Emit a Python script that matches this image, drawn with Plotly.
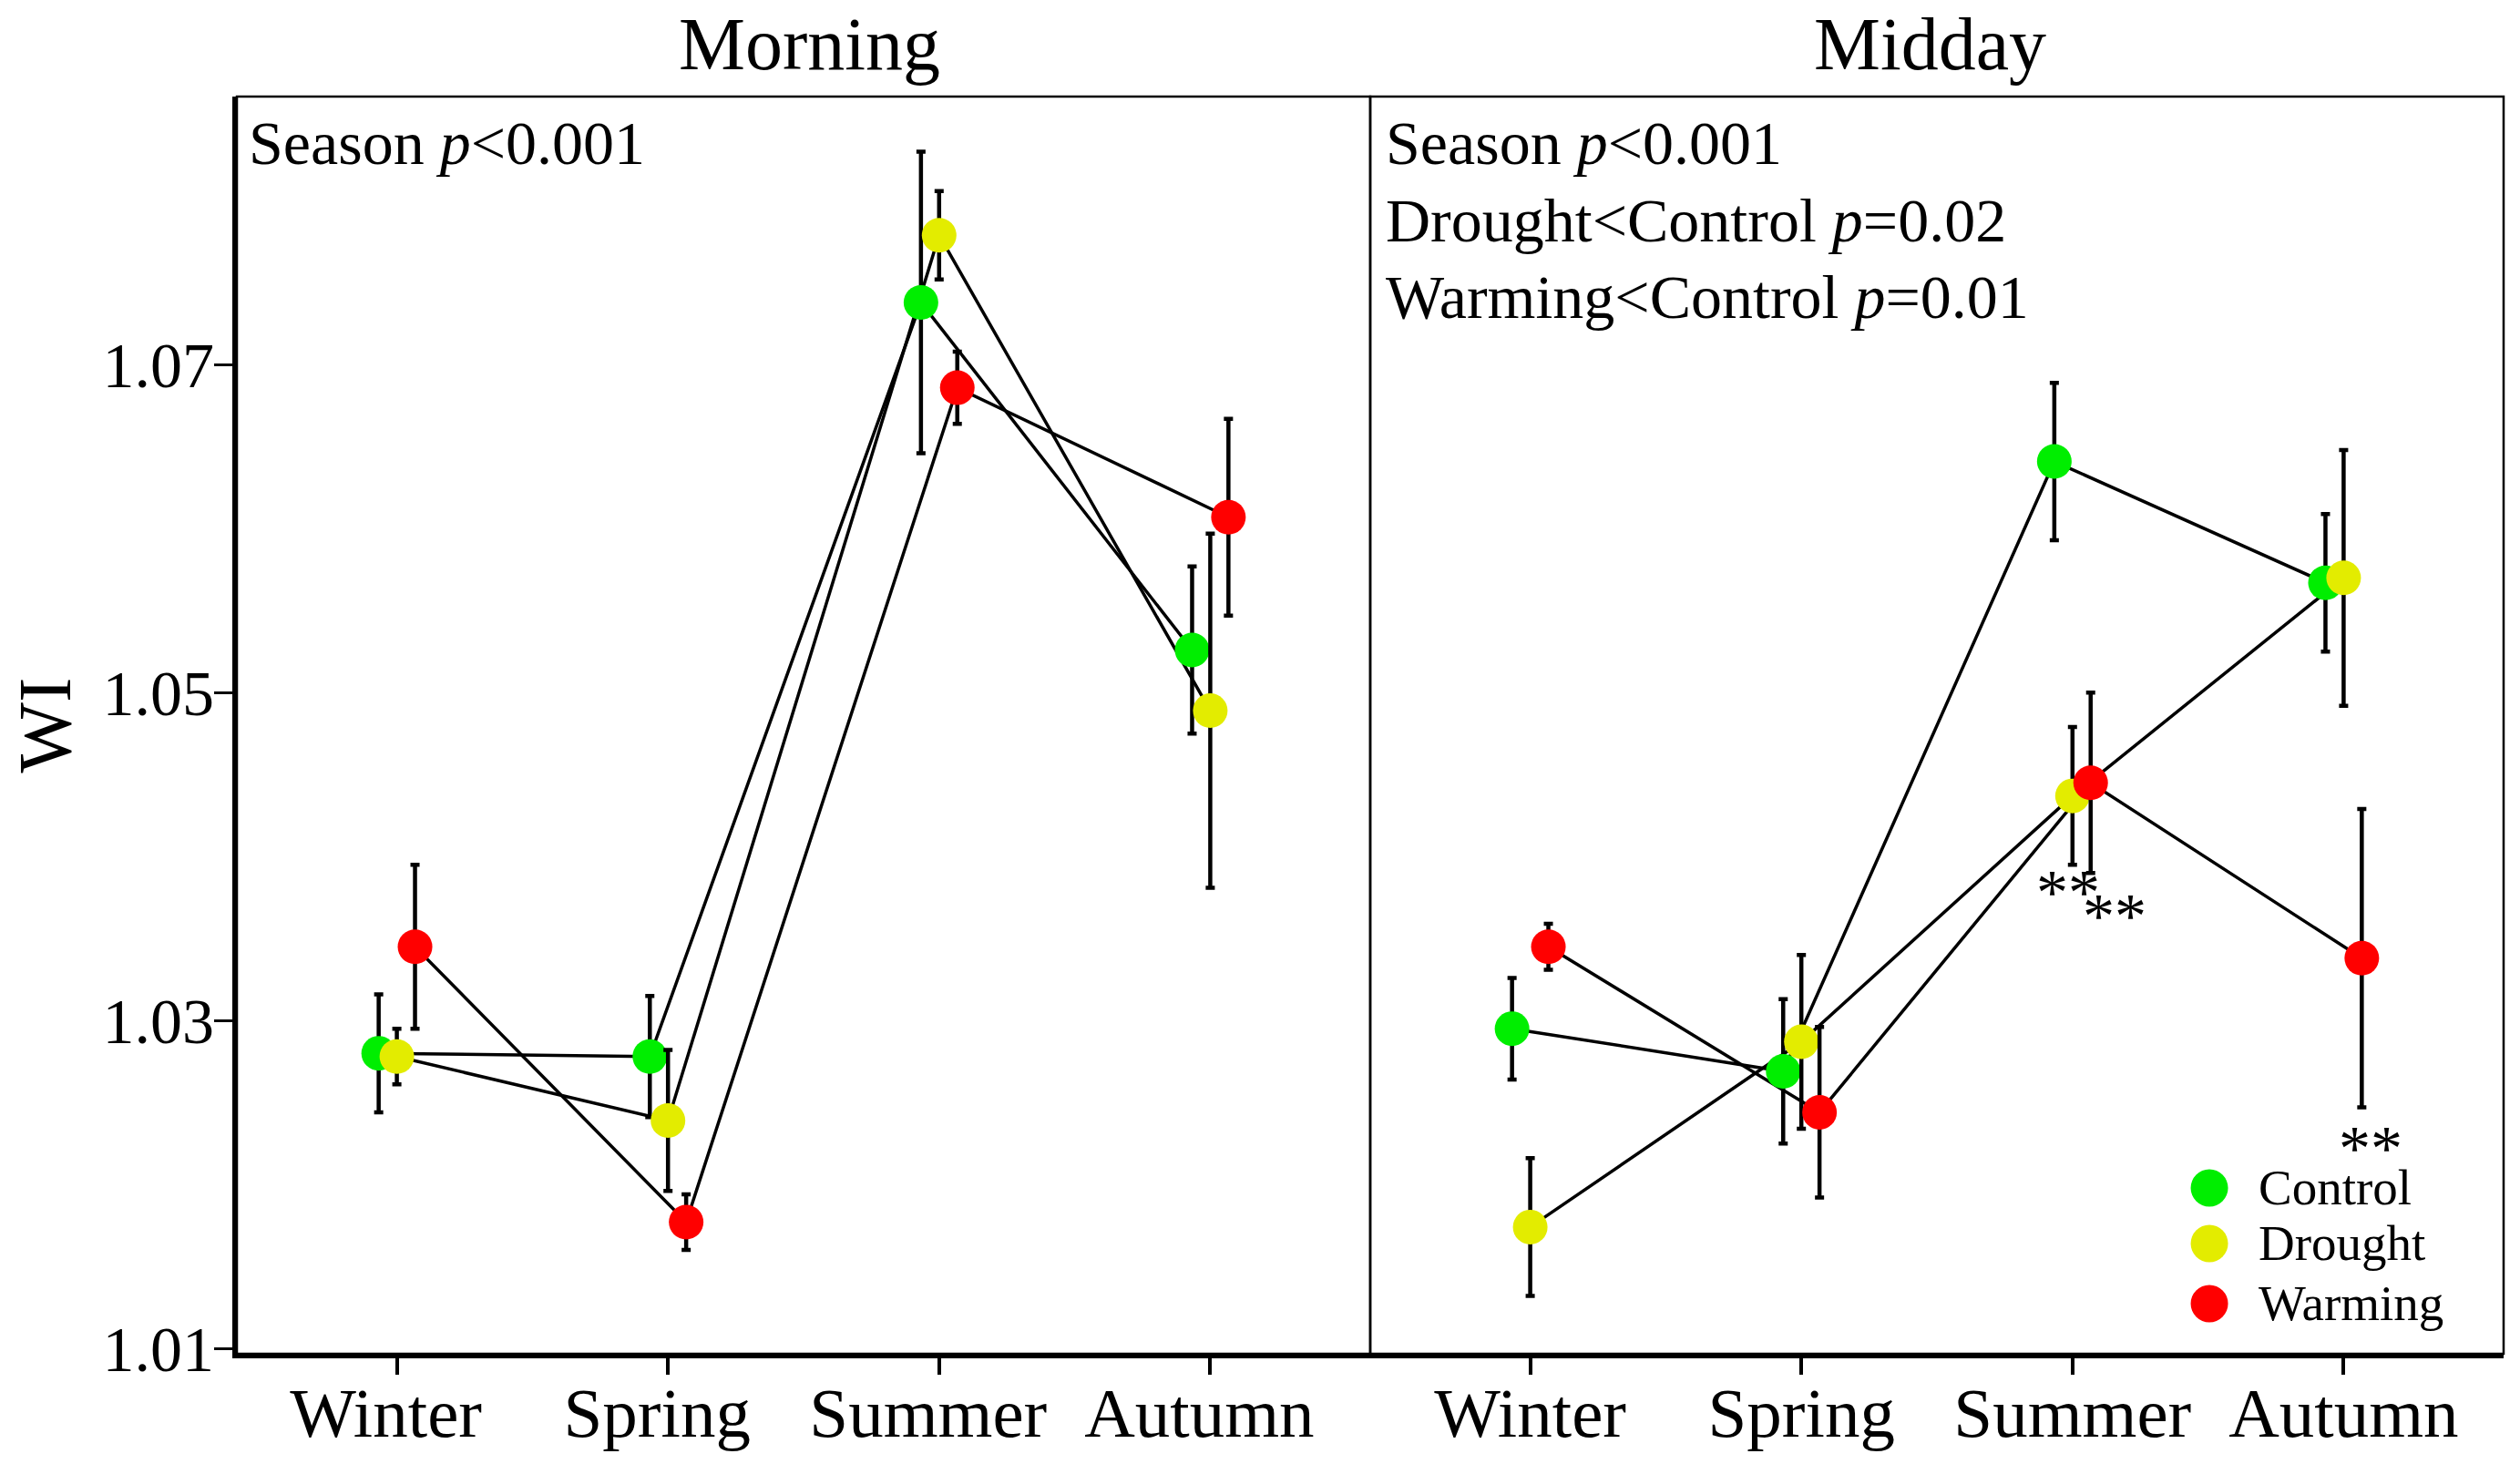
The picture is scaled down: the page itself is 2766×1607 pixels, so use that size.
import plotly.graph_objects as go

seasons = ["Winter", "Spring", "Summer", "Autumn"]
treatments = ["Control", "Drought", "Warming"]
colors = {"Control": "#00EE00", "Drought": "#E3EC00", "Warming": "#FF0000"}
dodge = {"Control": -0.067, "Drought": 0.0, "Warming": 0.067}

# WI means and error bars
morning_control = [1.0280, 1.0278, 1.0738, 1.0526]
morning_control_err = [0.0036, 0.0037, 0.0092, 0.0051]
morning_drought = [1.0278, 1.0239, 1.0779, 1.0489]
morning_drought_err = [0.0017, 0.0043, 0.0027, 0.0108]
morning_warming = [1.0345, 1.0177, 1.0686, 1.0607]
morning_warming_err = [0.0050, 0.0017, 0.0022, 0.0060]

midday_control = [1.0295, 1.0269, 1.0641, 1.0567]
midday_control_err = [0.0031, 0.0044, 0.0048, 0.0042]
midday_drought = [1.0174, 1.0287, 1.0437, 1.0570]
midday_drought_err = [0.0042, 0.0053, 0.0042, 0.0078]
midday_warming = [1.0345, 1.0244, 1.0445, 1.0338]
midday_warming_err = [0.0014, 0.0052, 0.0055, 0.0091]

# significance stars on the midday panel (x in season index units)
star_x = [1.983, 2.154, 3.10]
star_y = [1.0378, 1.0364, 1.0222]

morning_notes = ["Season <i>p</i><0.001"]
midday_notes = ["Season <i>p</i><0.001",
                "Drought<Control <i>p</i>=0.02",
                "Warming<Control <i>p</i>=0.01"]

panels = [
    ("x", "y", {"Control": (morning_control, morning_control_err),
                "Drought": (morning_drought, morning_drought_err),
                "Warming": (morning_warming, morning_warming_err)}),
    ("x2", "y2", {"Control": (midday_control, midday_control_err),
                  "Drought": (midday_drought, midday_drought_err),
                  "Warming": (midday_warming, midday_warming_err)}),
]

FONT = "Liberation Serif"
fig = go.Figure()

# lines first so that every marker sits on top of them
for xa, ya, d in panels:
    for t in treatments:
        vals = d[t][0]
        fig.add_trace(go.Scatter(
            x=[i + dodge[t] for i in range(len(seasons))], y=vals,
            mode="lines", line=dict(color="black", width=3.5),
            xaxis=xa, yaxis=ya, showlegend=False, hoverinfo="skip"))

for xa, ya, d in panels:
    for t in treatments:
        vals, errs = d[t]
        fig.add_trace(go.Scatter(
            x=[i + dodge[t] for i in range(len(seasons))], y=vals,
            mode="markers", name=t,
            marker=dict(color=colors[t], size=38, line=dict(width=0)),
            error_y=dict(type="data", array=errs, visible=True,
                         color="black", thickness=4.5, width=5),
            xaxis=xa, yaxis=ya, showlegend=False))

xcommon = dict(range=[-0.59, 3.59], tickvals=list(range(len(seasons))),
               ticktext=seasons, ticks="outside", ticklen=18, tickwidth=4,
               tickcolor="black", showline=True, linewidth=5, linecolor="black",
               showgrid=False, zeroline=False, automargin=False,
               ticklabelstandoff=-24,
               tickfont=dict(family=FONT, size=77, color="black"))
yrange = [1.00967, 1.08636]

fig.update_layout(
    width=2766, height=1607,
    margin=dict(l=260, r=18, t=106, b=121),
    paper_bgcolor="white", plot_bgcolor="white",
    xaxis=dict(domain=[0, 0.5], ticklabelshift=-12, **xcommon),
    xaxis2=dict(domain=[0.5, 1], anchor="y2", **xcommon),
    yaxis=dict(range=yrange, tickvals=[1.01, 1.03, 1.05, 1.07],
               ticktext=["1.01", "1.03", "1.05", "1.07"],
               ticks="outside", ticklen=20, tickwidth=3, tickcolor="black",
               showline=True, linewidth=5, linecolor="black",
               showgrid=False, zeroline=False, automargin=False,
               ticklabelstandoff=-14,
               tickfont=dict(family=FONT, size=70, color="black")),
    yaxis2=dict(range=yrange, anchor="x2", showticklabels=False, ticks="",
                showline=False, showgrid=False, zeroline=False,
                automargin=False),
    font=dict(family=FONT, color="black"),
)

# thin frame around each panel
for xd, yd in [("x domain", "y domain"), ("x2 domain", "y2 domain")]:
    fig.add_shape(type="rect", xref=xd, yref=yd, x0=0, x1=1, y0=0, y1=1,
                  line=dict(color="black", width=2.5), layer="below")

ann = []
for x, title in [(0.2525, "Morning"), (0.747, "Midday")]:
    ann.append(dict(text=title, xref="paper", yref="paper", x=x, y=1.0417,
                    xanchor="center", yanchor="middle", showarrow=False,
                    font=dict(family=FONT, size=82, color="black")))

ann.append(dict(text="WI", xref="paper", yref="paper", x=-0.085, y=0.5,
                textangle=-90, xanchor="center", yanchor="middle",
                showarrow=False, font=dict(family=FONT, size=82, color="black")))

line_y = [0.9630, 0.9014, 0.8406]
for xpos, notes in [(0.0046, morning_notes), (0.5062, midday_notes)]:
    for k, s in enumerate(notes):
        ann.append(dict(text=s, xref="paper", yref="paper", x=xpos, y=line_y[k],
                        xanchor="left", yanchor="middle", showarrow=False,
                        font=dict(family=FONT, size=68, color="black")))

for sx, sy in zip(star_x, star_y):
    ann.append(dict(text="**", xref="x2", yref="y2", x=sx, y=sy,
                    xanchor="center", yanchor="middle", showarrow=False,
                    font=dict(family=FONT, size=70, color="black")))

# hand-made legend (plotly caps legend marker size)
leg_y = [0.1319, 0.0877, 0.0399]
for t, ly in zip(treatments, leg_y):
    fig.add_shape(type="circle", xref="paper", yref="paper",
                  xsizemode="pixel", ysizemode="pixel",
                  xanchor=0.8702, yanchor=ly, x0=-20.5, x1=20.5, y0=-20.5, y1=20.5,
                  fillcolor=colors[t], line=dict(width=0), layer="above")
    ann.append(dict(text=t, xref="paper", yref="paper", x=0.8911, y=ly,
                    xanchor="left", yanchor="middle", showarrow=False,
                    font=dict(family=FONT, size=55, color="black")))

fig.update_layout(annotations=ann)

fig.write_html("out.html", config={"displayModeBar": False},
               post_script="document.body.style.margin='0px';")
